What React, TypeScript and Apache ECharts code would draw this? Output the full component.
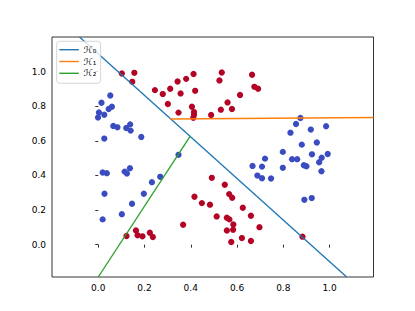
import React, { useEffect, useRef } from "react";
import * as echarts from "echarts";

const xTicks = [0.0, 0.2, 0.4, 0.6, 0.8, 1.0];
const yTicks = [0.0, 0.2, 0.4, 0.6, 0.8, 1.0];

const redPoints: [number, number][] = [
  [0.102, 0.989], [0.156, 0.993], [0.147, 0.941], [0.245, 0.893], [0.279, 0.870],
  [0.311, 0.901], [0.343, 0.943], [0.380, 0.958], [0.356, 0.874], [0.301, 0.813],
  [0.347, 0.763], [0.405, 0.797], [0.412, 0.986], [0.419, 0.889], [0.414, 0.766],
  [0.414, 0.750], [0.411, 0.733], [0.488, 0.749], [0.530, 0.780], [0.559, 0.822],
  [0.578, 0.784], [0.613, 0.865], [0.524, 0.949], [0.534, 0.995], [0.665, 0.982],
  [0.675, 0.912], [0.691, 0.901],
  [0.491, 0.386], [0.547, 0.346], [0.566, 0.292], [0.579, 0.271], [0.416, 0.277],
  [0.448, 0.240], [0.483, 0.231], [0.625, 0.213], [0.512, 0.163], [0.556, 0.156],
  [0.567, 0.146], [0.660, 0.167], [0.584, 0.117], [0.556, 0.082], [0.583, 0.086],
  [0.697, 0.101], [0.621, 0.038], [0.660, 0.021], [0.575, 0.015], [0.883, 0.046],
  [0.367, 0.115], [0.122, 0.050], [0.163, 0.082], [0.170, 0.054], [0.191, 0.048],
  [0.223, 0.069], [0.236, 0.044],
];

const bluePoints: [number, number][] = [
  [0.052, 0.862], [0.014, 0.820], [0.059, 0.797], [0.045, 0.784], [0.003, 0.764],
  [0.026, 0.751], [-0.001, 0.735], [0.065, 0.686], [0.083, 0.678], [0.121, 0.674],
  [0.138, 0.695], [0.140, 0.659], [0.026, 0.613], [0.186, 0.622], [0.347, 0.519],
  [0.019, 0.417], [0.037, 0.413], [0.114, 0.422], [0.124, 0.411], [0.137, 0.442],
  [0.268, 0.392], [0.232, 0.361], [0.027, 0.294], [0.197, 0.294], [0.146, 0.236],
  [0.102, 0.176], [0.019, 0.146],
  [0.874, 0.732], [0.855, 0.697], [0.919, 0.665], [0.985, 0.684], [0.831, 0.647],
  [0.880, 0.578], [0.945, 0.590], [0.798, 0.536], [0.924, 0.522], [0.992, 0.524],
  [0.721, 0.497], [0.838, 0.494], [0.860, 0.494], [0.966, 0.502], [0.955, 0.476],
  [0.667, 0.455], [0.708, 0.451], [0.798, 0.444], [0.889, 0.459], [0.900, 0.453],
  [0.965, 0.424], [0.688, 0.399], [0.708, 0.384], [0.747, 0.382], [0.891, 0.259],
  [0.923, 0.269],
];

const h0Line: [number, number][] = [[-0.081, 1.2], [1.074, -0.187]];
const h1Line: [number, number][] = [[0.311, 0.726], [1.19, 0.735]];
const h2Line: [number, number][] = [[0.0, -0.187], [0.397, 0.626]];

const lineNames = ["ℋ₀", "ℋ₁", "ℋ₂"];
const lineColors = ["#1f77b4", "#ff7f0e", "#2ca02c"];

export default function App() {
  const ref = useRef<HTMLDivElement>(null);
  useEffect(() => {
    if (!ref.current) return;
    const chart = echarts.init(ref.current, undefined, { renderer: "svg" });
    const font = "DejaVu Sans";
    const axisCommon = {
      axisLine: { show: false },
      splitLine: { show: false },
      axisTick: {
        show: true,
        inside: false,
        length: 3,
        lineStyle: { color: "#000", width: 0.8 },
      },
    };
    chart.setOption({
      animation: false,
      backgroundColor: "#fff",
      grid: {
        left: 52,
        right: 41.5,
        top: 37,
        bottom: 34,
        show: true,
        borderColor: "#000",
        borderWidth: 0.8,
        backgroundColor: "transparent",
      },
      legend: {
        orient: "vertical",
        left: 56.7,
        top: 41.3,
        data: lineNames,
        icon: "rect",
        itemWidth: 19.5,
        itemHeight: 1.4,
        itemGap: 0.8,
        padding: [2.9, 4.3, 4.5, 2.6],
        backgroundColor: "rgba(255,255,255,0.8)",
        borderColor: "#cccccc",
        borderWidth: 0.8,
        borderRadius: 3,
        textStyle: { fontFamily: font, fontSize: 9, lineHeight: 11, color: "#000" },
      },
      xAxis: {
        type: "value",
        min: -0.2,
        max: 1.19,
        ...axisCommon,
        axisTick: { ...axisCommon.axisTick, customValues: xTicks },
        axisLabel: {
          customValues: xTicks,
          formatter: (v: number) => v.toFixed(1),
          fontFamily: font,
          fontSize: 9,
          color: "#000",
          margin: 6,
        },
      },
      yAxis: {
        type: "value",
        min: -0.187,
        max: 1.2,
        ...axisCommon,
        axisTick: { ...axisCommon.axisTick, customValues: yTicks },
        axisLabel: {
          customValues: yTicks,
          formatter: (v: number) => v.toFixed(1),
          fontFamily: font,
          fontSize: 9,
          color: "#000",
          margin: 6,
        },
      },
      series: [
        {
          type: "scatter",
          data: redPoints,
          symbolSize: 6.3,
          itemStyle: { color: "#b40426", opacity: 1 },
          z: 2,
        },
        {
          type: "scatter",
          data: bluePoints,
          symbolSize: 6.3,
          itemStyle: { color: "#3b4cc0", opacity: 1 },
          z: 2,
        },
        ...[h0Line, h1Line, h2Line].map((d, i) => ({
          type: "line",
          name: lineNames[i],
          data: d,
          symbol: "none",
          clip: true,
          lineStyle: { color: lineColors[i], width: 1.35 },
          itemStyle: { color: lineColors[i] },
          z: 3,
        })),
      ],
    });
    return () => chart.dispose();
  }, []);
  return (
    <div
      ref={ref}
      style={{ position: "fixed", left: 0, top: 0, width: 415, height: 311 }}
    />
  );
}
